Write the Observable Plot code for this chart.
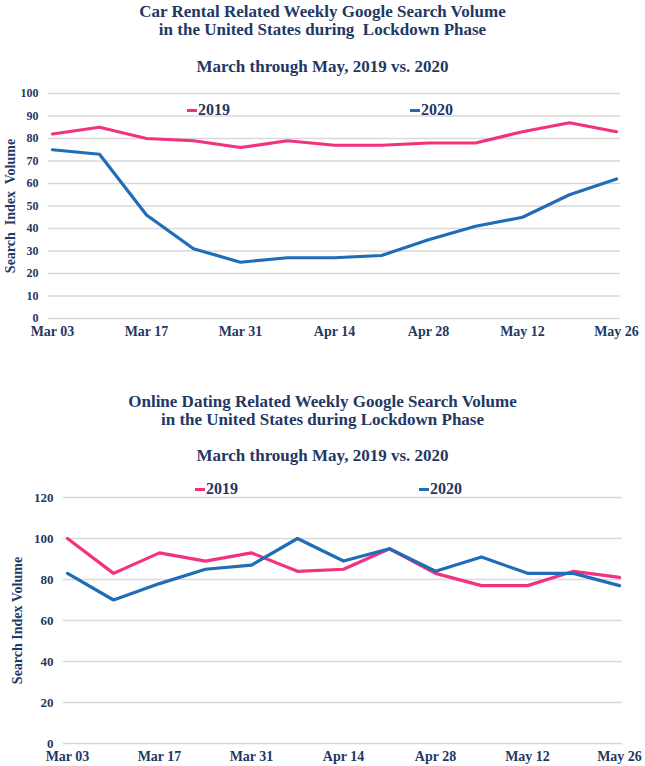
<!DOCTYPE html>
<html>
<head>
<meta charset="utf-8">
<script src="https://cdn.jsdelivr.net/npm/d3@7"></script>
<script src="https://cdn.jsdelivr.net/npm/@observablehq/plot@0.6"></script>
<style>
  body { margin:0; width:645px; height:766px; position:relative; background:#fff;
         font-family:"Liberation Serif", "DejaVu Serif", serif; font-weight:bold; color:#1f3864; overflow:hidden; }
  .title { position:absolute; left:0; width:645px; text-align:center; font-size:17px; line-height:18px; white-space:nowrap; }
  .sub { position:absolute; left:0; width:645px; text-align:center; font-size:17px; line-height:18px; white-space:nowrap; }
  .chart { position:absolute; left:0; }
  .leg { position:absolute; font-size:16px; line-height:16px; white-space:nowrap; }
  .leg i { display:inline-block; width:10px; height:3px; vertical-align:middle; margin-right:1px; position:relative; top:-1px; }
</style>
</head>
<body>
<div class="title" style="top:3px">Car Rental Related Weekly Google Search Volume<br>in the United States during&nbsp; Lockdown Phase</div>
<div class="sub" style="top:58px">March through May, 2019 vs. 2020</div>
<div class="chart" id="c1" style="top:80px"></div>

<div class="title" style="top:393px">Online Dating Related Weekly Google Search Volume<br>in the United States during Lockdown Phase</div>
<div class="sub" style="top:447px">March through May, 2019 vs. 2020</div>
<div class="chart" id="c2" style="top:480px"></div>

<script>
const weeks = ["Mar 03","Mar 10","Mar 17","Mar 24","Mar 31","Apr 07","Apr 14","Apr 21","Apr 28","May 05","May 12","May 19","May 26"];
const xTickLabels = ["Mar 03","Mar 17","Mar 31","Apr 14","Apr 28","May 12","May 26"];
const seriesNames = ["2019","2020"];
const carRental2019 = [82,85,80,79,76,79,77,77,78,78,83,87,83];
const carRental2020 = [75,73,46,31,25,27,27,28,35,41,45,55,62];
const dating2019 = [100,83,93,89,93,84,85,95,83,77,77,84,81];
const dating2020 = [83,70,78,85,87,100,89,95,84,91,83,83,77];
const yTicksTop = [0,10,20,30,40,50,60,70,80,90,100];
const yTicksBottom = [0,20,40,60,80,100,120];
const colors = ["#f2327f","#1f6db6"];
const ink = "#1f3864";

function table(a, b) {
  return weeks.flatMap((w, i) => [
    {week: w, value: a[i], series: seriesNames[0]},
    {week: w, value: b[i], series: seriesNames[1]}
  ]);
}

function chart(data, opts) {
  return Plot.plot({
    width: 645,
    height: opts.height,
    marginTop: opts.mt,
    marginBottom: opts.mb,
    marginLeft: opts.ml,
    marginRight: opts.mr,
    style: {fontFamily: '"Liberation Serif", serif', fontWeight: "bold", color: ink, background: "#fff", overflow: "visible"},
    x: {type: "point", domain: weeks, padding: 0},
    y: {domain: opts.ydomain},
    color: {domain: seriesNames, range: colors},
    marks: [
      Plot.gridY(opts.yticks, {stroke: "#d9d9d9", strokeOpacity: 1, strokeWidth: 1.5}),
      Plot.axisY(opts.yticks, {tickSize: 0, tickPadding: 10, fontSize: opts.yfs, fill: ink, label: null}),
      Plot.axisX(xTickLabels, {tickSize: 0, tickPadding: 8, fontSize: 14, fill: ink, label: null}),
      Plot.text([opts.ylabel], {frameAnchor: "left", textAnchor: "middle", rotate: -90, dx: -opts.lo, fontSize: 14, fill: ink, fontWeight: "bold"}),
      Plot.line(data, {x: "week", y: "value", stroke: "series", strokeWidth: 3.2, strokeLinejoin: "round"})
    ]
  });
}

const c1 = chart(table(carRental2019, carRental2020), {height: 265, mt: 13, mb: 27, ml: 48, mr: 25,
  ydomain: [0, 100], yticks: yTicksTop, yfs: 12, ylabel: "Search  Index  Volume", lo: 38});
document.getElementById("c1").appendChild(c1);

const c2 = chart(table(dating2019, dating2020), {height: 286, mt: 17, mb: 23, ml: 63, mr: 23,
  ydomain: [0, 120], yticks: yTicksBottom, yfs: 13, ylabel: "Search Index Volume", lo: 46});
document.getElementById("c2").appendChild(c2);

// legends
function legend(name, color, left, top) {
  const d = document.createElement("div");
  d.className = "leg";
  d.style.left = left + "px";
  d.style.top = top + "px";
  const i = document.createElement("i");
  i.style.background = color;
  d.appendChild(i);
  d.appendChild(document.createTextNode(name));
  document.body.appendChild(d);
}
legend(seriesNames[0], colors[0], 187, 102);
legend(seriesNames[1], colors[1], 410, 102);
legend(seriesNames[0], colors[0], 195, 481);
legend(seriesNames[1], colors[1], 419, 481);
</script>
</body>
</html>
